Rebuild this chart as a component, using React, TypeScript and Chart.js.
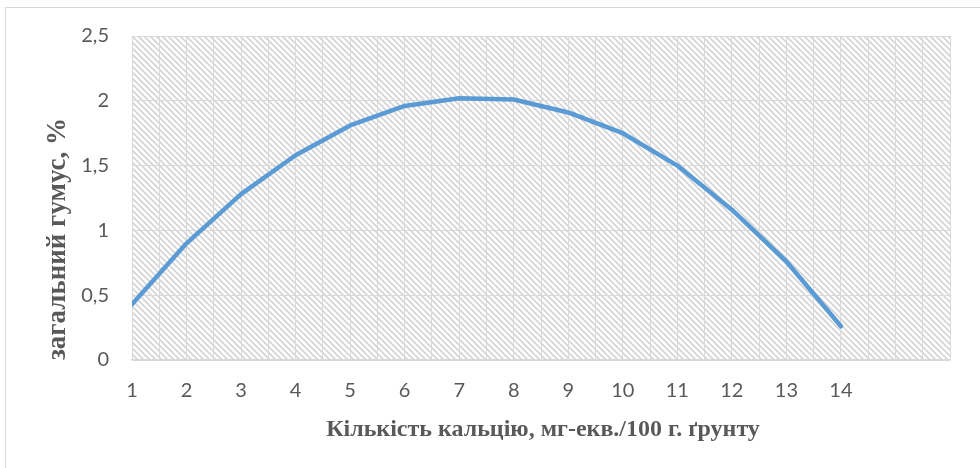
import React, { useEffect, useRef } from "react";
import { Chart, registerables } from "chart.js";

Chart.register(...registerables);

// Calcium content, mg-eq/100 g of soil
const calcium = [1, 2, 3, 4, 5, 6, 7, 8, 9, 10, 11, 12, 13, 14];
// Total humus, %
const humus = [0.43, 0.9, 1.28, 1.58, 1.81, 1.96, 2.02, 2.01, 1.91, 1.75, 1.5, 1.16, 0.76, 0.26];

const xLabelMax = 14;
const xAxisMax = 16;
const yAxisMax = 2.5;

const xTitle = "Кількість кальцію, мг-екв./100 г. ґрунту";
const yTitle = "загальний гумус, %";

const textColor = "#595959";
const gridColor = "#d9d9d9";
const lineColor = "#5B9BD5";

function makeHatch(): CanvasPattern | string {
  const tile = document.createElement("canvas");
  tile.width = 6;
  tile.height = 6;
  const c = tile.getContext("2d");
  if (!c) return "#f4f4f4";
  c.fillStyle = "#ffffff";
  c.fillRect(0, 0, 6, 6);
  c.strokeStyle = "#d4d4d4";
  c.lineWidth = 1.6;
  c.beginPath();
  c.moveTo(-1, -1);
  c.lineTo(7, 7);
  c.moveTo(-4, 2);
  c.lineTo(4, 10);
  c.moveTo(2, -4);
  c.lineTo(10, 4);
  c.stroke();
  const p = c.createPattern(tile, "repeat");
  return p || "#f4f4f4";
}

export default function App() {
  const ref = useRef<HTMLCanvasElement | null>(null);

  useEffect(() => {
    const canvas = ref.current;
    if (!canvas) return;
    const hatch = makeHatch();

    const plotBackground = {
      id: "plotBackground",
      beforeDraw(chart: any) {
        const { ctx, chartArea } = chart;
        ctx.save();
        ctx.fillStyle = hatch;
        ctx.fillRect(chartArea.left, chartArea.top, chartArea.right - chartArea.left, chartArea.bottom - chartArea.top);
        ctx.restore();
      },
    };

    const axisTitles = {
      id: "axisTitles",
      afterDraw(chart: any) {
        const { ctx } = chart;
        ctx.save();
        ctx.fillStyle = textColor;
        ctx.font = "bold 24px 'Liberation Serif', serif";
        ctx.textAlign = "center";
        ctx.textBaseline = "middle";
        ctx.fillText(xTitle, 543, 430);
        ctx.translate(58, 239);
        ctx.rotate(-Math.PI / 2);
        ctx.font = "bold 27px 'Liberation Serif', serif";
        ctx.fillText(yTitle, 0, 0);
        ctx.restore();
      },
    };

    const chart = new Chart(canvas, {
      type: "line",
      data: {
        datasets: [
          {
            data: calcium.map((x, i) => ({ x, y: humus[i] })),
            borderColor: lineColor,
            borderWidth: 4.5,
            pointRadius: 0,
            tension: 0,
            borderCapStyle: "round",
            borderJoinStyle: "round",
            fill: false,
          },
        ],
      },
      options: {
        responsive: false,
        animation: false,
        layout: { padding: { top: 36, right: 30, left: 0, bottom: 0 } },
        plugins: { legend: { display: false }, tooltip: { enabled: false } },
        scales: {
          x: {
            type: "linear",
            min: 1,
            max: xAxisMax,
            grid: { color: gridColor, lineWidth: 1, drawTicks: false },
            border: { color: gridColor, width: 1.5 },
            ticks: {
              stepSize: 0.5,
              autoSkip: false,
              maxRotation: 0,
              padding: 19,
              color: textColor,
              font: { family: "Lato", size: 20 },
              callback: (v: any) => {
                const n = Number(v);
                return Number.isInteger(n) && n <= xLabelMax ? String(n) : "";
              },
            },
            afterFit: (s: any) => {
              s.height = 108;
            },
          },
          y: {
            min: 0,
            max: yAxisMax,
            grid: { color: gridColor, lineWidth: 1, drawTicks: false },
            border: { display: false },
            ticks: {
              stepSize: 0.5,
              padding: 23,
              color: textColor,
              font: { family: "Lato", size: 20 },
              callback: (v: any) => String(Number(v)).replace(".", ","),
            },
            afterFit: (s: any) => {
              s.width = 132;
            },
          },
        },
      },
      plugins: [plotBackground, axisTitles],
    });

    return () => chart.destroy();
  }, []);

  return (
    <div style={{ position: "fixed", left: 0, top: 0, width: 980, height: 468, overflow: "hidden", background: "#fff" }}>
      <div
        style={{
          position: "absolute",
          left: 5,
          top: 7,
          width: 1000,
          height: 500,
          border: "1.5px solid #d9d9d9",
          boxSizing: "border-box",
        }}
      />
      <canvas ref={ref} width={980} height={468} style={{ position: "absolute", left: 0, top: 0, display: "block" }} />
    </div>
  );
}
